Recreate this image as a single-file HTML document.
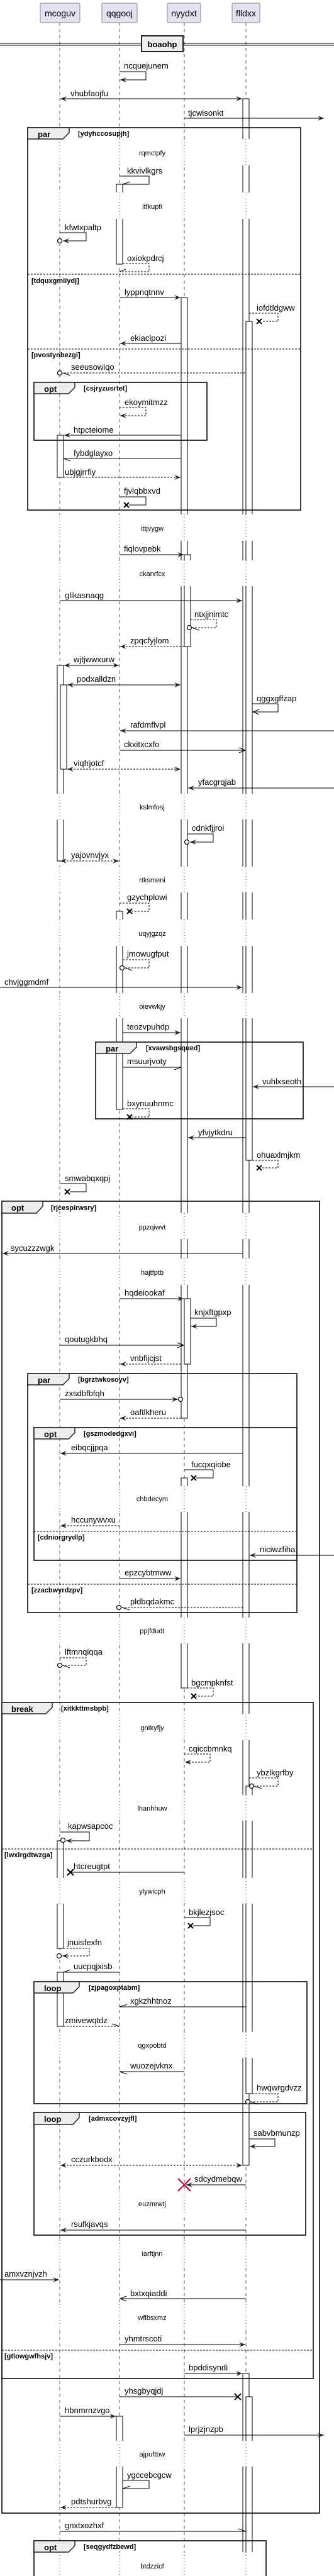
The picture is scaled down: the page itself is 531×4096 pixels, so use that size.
<!DOCTYPE html>
<html><head><meta charset="utf-8"><style>
html,body{margin:0;padding:0;background:#fff}
svg{display:block}
text{font-family:"Liberation Sans",Arial,sans-serif;fill:#000}
.m{font-size:13px}
.d{font-size:11px}
.fl{font-size:11px;font-weight:bold}
.ft{font-size:13px;font-weight:bold}
.ll{stroke:#555;stroke-width:1;stroke-dasharray:5,5}
.rd{stroke:#A80036;stroke-width:1;stroke-dasharray:1,4}
.b{fill:#fff;stroke:#000;stroke-width:1}
.s{stroke:#000;stroke-width:1;fill:none}
.ds{stroke:#000;stroke-width:1;fill:none;stroke-dasharray:3,2}
.fr{fill:none;stroke:#222;stroke-width:1.8}
.tab{fill:#eee;stroke:#222;stroke-width:1.5}
.el{stroke:#000;stroke-width:1;stroke-dasharray:3,2}
.c{fill:#fff;stroke:#000;stroke-width:1.2}
.x{stroke:#000;stroke-width:2}
</style></head><body>
<svg width="531" height="4096" viewBox="0 0 531 4096" xmlns="http://www.w3.org/2000/svg">
<defs>
<marker id="af" viewBox="-12 -6 14 12" markerWidth="14" markerHeight="12" refX="0" refY="0" orient="auto-start-reverse" markerUnits="userSpaceOnUse"><path d="M0,0 L-10,-4 L-6,0 L-10,4 Z" fill="#222"/></marker>
<marker id="ao" viewBox="-12 -6 14 12" markerWidth="14" markerHeight="12" refX="0" refY="0" orient="auto" markerUnits="userSpaceOnUse"><path d="M-10,-4 L0,0 L-10,4" fill="none" stroke="#000"/></marker>
</defs>

<!-- lifelines -->
<line class="ll" x1="95" y1="36" x2="95" y2="4096"/>
<line class="ll" x1="190" y1="36" x2="190" y2="4096"/>
<line class="ll" x1="293" y1="36" x2="293" y2="4096"/>
<line class="ll" x1="391" y1="36" x2="391" y2="4096"/>

<!-- heads -->
<rect x="64" y="5" width="63" height="31" rx="2" fill="#E2E2F0" stroke="#888"/>
<text x="95.5" y="26" font-size="14" text-anchor="middle">mcoguv</text>
<rect x="162" y="5" width="56" height="31" rx="2" fill="#E2E2F0" stroke="#888"/>
<text x="190" y="26" font-size="14" text-anchor="middle">qqgooj</text>
<rect x="266" y="5" width="53" height="31" rx="2" fill="#E2E2F0" stroke="#888"/>
<text x="292.5" y="26" font-size="14" text-anchor="middle">nyydxt</text>
<rect x="369" y="5" width="44" height="31" rx="2" fill="#E2E2F0" stroke="#888"/>
<text x="391" y="26" font-size="14" text-anchor="middle">flldxx</text>

<!-- activation bars -->
<rect class="b" x="386" y="157" width="10" height="3286"/>
<rect class="b" x="391" y="511" width="10" height="1334"/>
<rect class="b" x="391" y="2840" width="10" height="489"/>
<rect class="b" x="386" y="3774" width="10" height="330"/>
<rect class="b" x="391" y="3811" width="10" height="293"/>
<rect class="b" x="185" y="293" width="10" height="127"/>
<rect class="b" x="185" y="1449" width="10" height="315"/>
<rect class="b" x="185" y="3842" width="10" height="145"/>
<rect class="b" x="91" y="692" width="10" height="67"/>
<rect class="b" x="91" y="1058" width="10" height="311"/>
<rect class="b" x="96" y="1089" width="10" height="134"/>
<rect class="b" x="91" y="2927" width="10" height="171"/>
<rect class="b" x="91" y="3136" width="10" height="86"/>
<rect class="b" x="288" y="473" width="10" height="1782"/>
<rect class="b" x="293" y="882" width="10" height="146"/>
<rect class="b" x="293" y="2065" width="10" height="104"/>
<rect class="b" x="288" y="2350" width="10" height="334"/>

<!-- delays -->
<g fill="#fff">
<rect x="82" y="221" width="330" height="42"/><rect x="82" y="306" width="330" height="42"/>
<rect x="82" y="818" width="330" height="42"/><rect x="82" y="891" width="330" height="41"/>
<rect x="82" y="1262" width="330" height="41"/><rect x="82" y="1378" width="330" height="41"/>
<rect x="82" y="1462" width="330" height="42"/><rect x="82" y="1579" width="330" height="40"/>
<rect x="82" y="1929" width="330" height="41"/><rect x="82" y="2001" width="330" height="42"/>
<rect x="82" y="2363" width="330" height="41"/><rect x="82" y="2572" width="330" height="41"/>
<rect x="82" y="2725" width="330" height="42"/><rect x="82" y="2854" width="330" height="41"/>
<rect x="82" y="2986" width="330" height="41"/><rect x="82" y="3231" width="330" height="41"/>
<rect x="82" y="3483" width="330" height="40"/><rect x="82" y="3562" width="330" height="41"/>
<rect x="82" y="3664" width="330" height="41"/><rect x="82" y="3881" width="330" height="41"/>
<rect x="82" y="4058" width="330" height="38"/>
</g>
<g>
<path class="rd" d="M95,221V263M190,221V263M293,221V263M391,221V263M95,306V348M190,306V348M293,306V348M391,306V348M95,818V860M190,818V860M293,818V860M391,818V860M95,891V932M190,891V932M293,891V932M391,891V932M95,1262V1303M190,1262V1303M293,1262V1303M391,1262V1303M95,1378V1419M190,1378V1419M293,1378V1419M391,1378V1419M95,1462V1504M190,1462V1504M293,1462V1504M391,1462V1504M95,1579V1619M190,1579V1619M293,1579V1619M391,1579V1619M95,1929V1970M190,1929V1970M293,1929V1970M391,1929V1970M95,2001V2043M190,2001V2043M293,2001V2043M391,2001V2043M95,2363V2404M190,2363V2404M293,2363V2404M391,2363V2404M95,2572V2613M190,2572V2613M293,2572V2613M391,2572V2613M95,2725V2767M190,2725V2767M293,2725V2767M391,2725V2767M95,2854V2895M190,2854V2895M293,2854V2895M391,2854V2895M95,2986V3027M190,2986V3027M293,2986V3027M391,2986V3027M95,3231V3272M190,3231V3272M293,3231V3272M391,3231V3272M95,3483V3523M190,3483V3523M293,3483V3523M391,3483V3523M95,3562V3603M190,3562V3603M293,3562V3603M391,3562V3603M95,3664V3705M190,3664V3705M293,3664V3705M391,3664V3705M95,3881V3922M190,3881V3922M293,3881V3922M391,3881V3922M95,4058V4096M190,4058V4096M293,4058V4096M391,4058V4096"/>
</g>
<g class="d" text-anchor="middle">
<text x="242" y="247">rqmctpfy</text><text x="242" y="332">itfkupfi</text>
<text x="242" y="844">ittjvygw</text><text x="242" y="916">ckanrfcx</text>
<text x="242" y="1287">kslmfosj</text><text x="242" y="1403">rtksmeni</text>
<text x="242" y="1488">uqyjgzqz</text><text x="242" y="1604">oievwkjy</text>
<text x="242" y="1955">ppzqiwvt</text><text x="242" y="2027">hajtfptb</text>
<text x="242" y="2387">chbdecym</text><text x="242" y="2597">ppjfdudt</text>
<text x="242" y="2751">gntkyfjy</text><text x="242" y="2879">lhanhhuw</text>
<text x="242" y="3011">ylywicph</text><text x="242" y="3256">qgxpobtd</text>
<text x="242" y="3508">euzmrwtj</text><text x="242" y="3587">iarftjnn</text>
<text x="242" y="3689">wflbsxmz</text><text x="242" y="3906">ajpuftbw</text>
<text x="242" y="4084">btdzzicf</text>
</g>

<!-- separator -->
<line x1="0" y1="69" x2="531" y2="69" stroke="#000"/>
<line x1="0" y1="72" x2="531" y2="72" stroke="#000"/>
<rect x="225" y="57" width="66" height="25" fill="#eee" stroke="#222" stroke-width="2"/>
<text x="258" y="75" text-anchor="middle" class="ft">boaohp</text>

<!-- fragments -->
<g>
<rect class="fr" x="44" y="203" width="434" height="608"/>
<path class="tab" d="M44,203H110V211L100,221H44Z"/><text class="ft" x="60" y="218">par</text>
<text class="fl" x="124" y="216">[ydyhccosupjh]</text>
<line class="el" x1="44" y1="436" x2="478" y2="436"/><text class="fl" x="50" y="450">[tdquxgmiiydj]</text>
<line class="el" x1="44" y1="555" x2="478" y2="555"/><text class="fl" x="50" y="568">[pvostynbezgi]</text>

<rect class="fr" x="54" y="608" width="275" height="92"/>
<path class="tab" d="M54,608H119V616L109,626H54Z"/><text class="ft" x="70" y="623">opt</text>
<text class="fl" x="133" y="621">[csjryzusrtet]</text>

<rect class="fr" x="152" y="1657" width="330" height="122"/>
<path class="tab" d="M152,1657H217V1665L207,1675H152Z"/><text class="ft" x="168" y="1672">par</text>
<text class="fl" x="232" y="1670">[xvawsbgsqued]</text>

<rect class="fr" x="3" y="1910" width="505" height="2086"/>
<path class="tab" d="M3,1910H68V1918L58,1929H3Z"/><text class="ft" x="18" y="1925">opt</text>
<text class="fl" x="81" y="1924">[rjcespirwsry]</text>

<rect class="fr" x="44" y="2184" width="428" height="380"/>
<path class="tab" d="M44,2184H110V2192L100,2202H44Z"/><text class="ft" x="60" y="2199">par</text>
<text class="fl" x="124" y="2197">[bgrztwkosoyv]</text>
<line class="el" x1="44" y1="2519" x2="472" y2="2519"/><text class="fl" x="50" y="2532">[zzacbwyrdzpv]</text>

<rect class="fr" x="54" y="2270" width="418" height="211"/>
<path class="tab" d="M54,2270H119V2278L109,2288H54Z"/><text class="ft" x="70" y="2285">opt</text>
<text class="fl" x="133" y="2283">[gszmodedgxvi]</text>
<line class="el" x1="54" y1="2435" x2="472" y2="2435"/><text class="fl" x="60" y="2448">[cdniorgrydlp]</text>

<rect class="fr" x="3" y="2707" width="495" height="1075"/>
<path class="tab" d="M3,2707H83V2715L73,2725H3Z"/><text class="ft" x="18" y="2722">break</text>
<text class="fl" x="97" y="2720">[xitkkttmsbpb]</text>
<line class="el" x1="3" y1="2940" x2="498" y2="2940"/><text class="fl" x="7" y="2953">[lwxlrgdtwzga]</text>
<line class="el" x1="3" y1="3737" x2="498" y2="3737"/><text class="fl" x="7" y="3750">[gtlowgwfhsjv]</text>

<rect class="fr" x="54" y="3151" width="434" height="194"/>
<path class="tab" d="M54,3151H126V3159L116,3169H54Z"/><text class="ft" x="70" y="3166">loop</text>
<text class="fl" x="141" y="3164">[zjpagoxptabm]</text>

<rect class="fr" x="54" y="3359" width="432" height="195"/>
<path class="tab" d="M54,3359H126V3367L116,3378H54Z"/><text class="ft" x="70" y="3374">loop</text>
<text class="fl" x="141" y="3372">[admxcovzyjfl]</text>

<rect class="fr" x="54" y="4040" width="369" height="70"/>
<path class="tab" d="M54,4040H119V4048L109,4058H54Z"/><text class="ft" x="70" y="4055">opt</text>
<text class="fl" x="133" y="4053">[seqgydfzbewd]</text>
</g>

<!-- messages -->
<g>
<polyline class="s" points="190,114 232,114 232,127 191,127" marker-end="url(#af)"/><text class="m" x="197" y="109">ncquejunem</text>
<line class="s" x1="96" y1="157" x2="385" y2="157" marker-start="url(#af)" marker-end="url(#af)"/><text class="m" x="112" y="153">vhubfaojfu</text>
<line class="s" x1="293" y1="188" x2="515" y2="188" marker-end="url(#af)"/><text class="m" x="299" y="184">tjcwisonkt</text>
<polyline class="s" points="190,280 237,280 237,293 195,293"/><line class="s" x1="195" y1="293" x2="207" y2="289"/><text class="m" x="202" y="276">kkvivlkgrs</text>
<polyline class="s" points="95,370 137,370 137,383 100,383" marker-end="url(#af)"/><circle class="c" cx="95" cy="383" r="3.5"/><text class="m" x="103" y="366">kfwtxpaltp</text>
<polyline class="ds" points="195,419 237,419 237,432 190,432"/><line class="s" x1="190" y1="432" x2="200" y2="428"/><text class="m" x="202" y="415">oxiokpdrcj</text>
<line class="s" x1="190" y1="473" x2="287" y2="473" marker-end="url(#af)"/><text class="m" x="198" y="469">lyppnqtnnv</text>
<polyline class="ds" points="396,498 442,498 442,511 416,511"/><path class="x" d="M408,507L416,515M416,507L408,515"/><text class="m" x="408" y="494">iofdtldgww</text>
<line class="s" x1="288" y1="546" x2="191" y2="546" marker-end="url(#af)"/><text class="m" x="207" y="542">ekiaclpozi</text>
<line class="ds" x1="390" y1="593" x2="99" y2="593"/><circle class="c" cx="95" cy="593" r="3.5"/><line class="s" x1="100" y1="593" x2="112" y2="597"/><text class="m" x="113" y="588">seeusowiqo</text>
<polyline class="ds" points="190,648 232,648 232,661 191,661" marker-end="url(#af)"/><text class="m" x="198" y="644">ekoymitmzz</text>
<line class="s" x1="288" y1="692" x2="102" y2="692" marker-end="url(#af)"/><text class="m" x="117" y="688">htpcteiome</text>
<line class="s" x1="288" y1="729" x2="101" y2="729"/><line class="s" x1="101" y1="729" x2="112" y2="733"/><text class="m" x="117" y="725">fybdglayxo</text>
<line class="ds" x1="101" y1="759" x2="287" y2="759" marker-end="url(#af)"/><text class="m" x="103" y="755">ubjgjrrfiy</text>
<polyline class="s" points="190,790 232,790 232,803 205,803"/><path class="x" d="M197,799L205,807M205,799L197,807"/><text class="m" x="197" y="785">fjvlqbbxvd</text>
<line class="s" x1="190" y1="882" x2="292" y2="882" marker-end="url(#af)"/><text class="m" x="197" y="877">fiqlovpebk</text>
<line class="s" x1="95" y1="955" x2="385" y2="955" marker-end="url(#af)"/><text class="m" x="103" y="951">glikasnaqg</text>
<polyline class="ds" points="303,985 344,985 344,998 305,998"/><circle class="c" cx="301" cy="998" r="3.5"/><line class="s" x1="305" y1="998" x2="317" y2="1002"/><text class="m" x="309" y="981">ntxjjnimtc</text>
<line class="ds" x1="293" y1="1028" x2="191" y2="1028" marker-end="url(#af)"/><text class="m" x="207" y="1023">zpqcfyjlom</text>
<line class="s" x1="102" y1="1058" x2="189" y2="1058" marker-start="url(#af)" marker-end="url(#af)"/><text class="m" x="117" y="1053">wjtjwwxurw</text>
<line class="s" x1="107" y1="1089" x2="287" y2="1089" marker-start="url(#af)" marker-end="url(#af)"/><text class="m" x="122" y="1084">podxalldzn</text>
<polyline class="s" points="401,1119 442,1119 442,1132 402,1132" marker-end="url(#ao)"/><text class="m" x="408" y="1115">qggxgffzap</text>
<line class="s" x1="531" y1="1162" x2="191" y2="1162" marker-end="url(#af)"/><text class="m" x="207" y="1157">rafdmflvpl</text>
<line class="s" x1="190" y1="1193" x2="390" y2="1193" marker-end="url(#ao)"/><text class="m" x="197" y="1188">ckxitxcxfo</text>
<line class="ds" x1="107" y1="1223" x2="287" y2="1223" marker-start="url(#af)" marker-end="url(#af)"/><text class="m" x="117" y="1218">viqfrjotcf</text>
<line class="s" x1="531" y1="1253" x2="299" y2="1253" marker-end="url(#af)"/><text class="m" x="315" y="1248">yfacgrqjab</text>
<polyline class="s" points="298,1326 339,1326 339,1339 302,1339" marker-end="url(#af)"/><circle class="c" cx="297" cy="1339" r="3.5"/><text class="m" x="305" y="1321">cdnkfjjroi</text>
<line class="ds" x1="96" y1="1369" x2="189" y2="1369" marker-start="url(#af)" marker-end="url(#af)"/><text class="m" x="113" y="1364">yajovnvjyx</text>
<polyline class="ds" points="190,1436 237,1436 237,1449 210,1449"/><path class="x" d="M202,1445L210,1453M210,1445L202,1453"/><text class="m" x="202" y="1431">gzychplowi</text>
<polyline class="ds" points="195,1526 237,1526 237,1539 198,1539"/><circle class="c" cx="194" cy="1539" r="3.5"/><line class="s" x1="199" y1="1539" x2="210" y2="1543"/><text class="m" x="202" y="1521">jmowugfput</text>
<line class="s" x1="0" y1="1570" x2="385" y2="1570" marker-end="url(#af)"/><text class="m" x="7" y="1566">chvjggmdmf</text>
<line class="s" x1="195" y1="1642" x2="287" y2="1642" marker-end="url(#af)"/><text class="m" x="202" y="1637">teozvpuhdp</text>
<line class="s" x1="195" y1="1697" x2="288" y2="1697"/><line class="s" x1="288" y1="1697" x2="277" y2="1701"/><text class="m" x="202" y="1692">msuurjvoty</text>
<line class="s" x1="531" y1="1728" x2="402" y2="1728" marker-end="url(#af)"/><text class="m" x="417" y="1724">vuhlxseoth</text>
<polyline class="ds" points="195,1763 237,1763 237,1776 210,1776"/><path class="x" d="M202,1772L210,1780M210,1772L202,1780"/><text class="m" x="202" y="1759">bxynuuhnmc</text>
<line class="s" x1="391" y1="1809" x2="299" y2="1809" marker-end="url(#af)"/><text class="m" x="315" y="1805">yfvjytkdru</text>
<polyline class="ds" points="401,1845 442,1845 442,1857 416,1857"/><path class="x" d="M408,1853L416,1861M416,1853L408,1861"/><text class="m" x="408" y="1841">ohuaxlmjkm</text>
<polyline class="s" points="95,1882 137,1882 137,1895 111,1895"/><path class="x" d="M103,1891L111,1899M111,1891L103,1899"/><text class="m" x="103" y="1878">smwabqxqpj</text>
<line class="s" x1="386" y1="1993" x2="4" y2="1993" marker-end="url(#af)"/><text class="m" x="17" y="1989">sycuzzzwgk</text>
<line class="s" x1="190" y1="2065" x2="292" y2="2065" marker-end="url(#af)"/><text class="m" x="198" y="2060">hqdeiookaf</text>
<polyline class="s" points="303,2096 344,2096 344,2109 304,2109" marker-end="url(#af)"/><text class="m" x="309" y="2091">knjxftgpxp</text>
<line class="s" x1="95" y1="2139" x2="292" y2="2139" marker-end="url(#ao)"/><text class="m" x="103" y="2134">qoutugkbhq</text>
<line class="ds" x1="288" y1="2169" x2="191" y2="2169" marker-end="url(#af)"/><text class="m" x="207" y="2164">vnbfijcjst</text>
<line class="s" x1="95" y1="2225" x2="283" y2="2225" marker-end="url(#af)"/><circle class="c" cx="287" cy="2225" r="3.5"/><text class="m" x="103" y="2220">zxsdbfbfqh</text>
<line class="ds" x1="288" y1="2255" x2="191" y2="2255" marker-end="url(#af)"/><text class="m" x="207" y="2250">oaftlkheru</text>
<line class="s" x1="386" y1="2311" x2="96" y2="2311" marker-end="url(#af)"/><text class="m" x="113" y="2306">eibqcjjpqa</text>
<polyline class="s" points="293,2337 339,2337 339,2350 312,2350"/><path class="x" d="M304,2346L312,2354M312,2346L304,2354"/><text class="m" x="304" y="2333">fucqxqiobe</text>
<line class="ds" x1="190" y1="2426" x2="96" y2="2426" marker-end="url(#af)"/><text class="m" x="113" y="2421">hccunywvxu</text>
<line class="s" x1="531" y1="2473" x2="397" y2="2473" marker-end="url(#af)"/><text class="m" x="413" y="2468">niciwzfiha</text>
<line class="s" x1="190" y1="2510" x2="287" y2="2510" marker-end="url(#af)"/><text class="m" x="198" y="2505">epzcybtmww</text>
<line class="ds" x1="386" y1="2556" x2="193" y2="2556"/><circle class="c" cx="189" cy="2556" r="3.5"/><line class="s" x1="194" y1="2556" x2="206" y2="2560"/><text class="m" x="207" y="2551">pldbqdakmc</text>
<polyline class="ds" points="95,2636 137,2636 137,2648 99,2648"/><circle class="c" cx="95" cy="2648" r="3.5"/><line class="s" x1="100" y1="2648" x2="111" y2="2652"/><text class="m" x="103" y="2631">lftmnqiqqa</text>
<polyline class="ds" points="298,2684 339,2684 339,2697 312,2697"/><path class="x" d="M304,2693L312,2701M312,2693L304,2701"/><text class="m" x="304" y="2680">bgcmpknfst</text>
<polyline class="ds" points="293,2789 334,2789 334,2802 294,2802" marker-end="url(#af)"/><text class="m" x="300" y="2785">cqiccbmnkq</text>
<polyline class="ds" points="396,2827 442,2827 442,2840 404,2840"/><circle class="c" cx="400" cy="2840" r="3.5"/><line class="s" x1="404" y1="2840" x2="416" y2="2844"/><text class="m" x="408" y="2823">ybzlkgrfby</text>
<polyline class="s" points="95,2913 142,2913 142,2927 105,2927" marker-end="url(#af)"/><circle class="c" cx="100" cy="2926" r="3.5"/><text class="m" x="108" y="2908">kapwsapcoc</text>
<line class="s" x1="293" y1="2977" x2="112" y2="2977"/><path class="x" d="M107,2972L117,2982M117,2972L107,2982"/><text class="m" x="117" y="2972">htcreugtpt</text>
<polyline class="s" points="293,3049 334,3049 334,3062 307,3062"/><path class="x" d="M299,3058L307,3066M307,3058L299,3066"/><text class="m" x="300" y="3045">bkjlezjsoc</text>
<polyline class="ds" points="101,3098 142,3098 142,3110 99,3110" marker-end="url(#af)"/><circle class="c" cx="94" cy="3110" r="3.5"/><text class="m" x="107" y="3093">jnuisfexfn</text>
<line class="s" x1="190" y1="3136" x2="101" y2="3136"/><line class="s" x1="101" y1="3136" x2="112" y2="3132"/><text class="m" x="117" y="3131">uucpqjxisb</text>
<line class="s" x1="391" y1="3191" x2="190" y2="3191"/><line class="s" x1="190" y1="3191" x2="202" y2="3187"/><text class="m" x="207" y="3186">xgkzhhtnoz</text>
<line class="ds" x1="101" y1="3222" x2="190" y2="3222"/><line class="s" x1="190" y1="3222" x2="178" y2="3218"/><text class="m" x="103" y="3217">zmivewqtdz</text>
<line class="s" x1="293" y1="3294" x2="190" y2="3294"/><line class="s" x1="190" y1="3294" x2="202" y2="3298"/><text class="m" x="207" y="3289">wuozejvknx</text>
<polyline class="ds" points="401,3329 442,3329 442,3342 398,3342"/><circle class="c" cx="394" cy="3342" r="3.5"/><line class="s" x1="399" y1="3342" x2="410" y2="3346"/><text class="m" x="408" y="3324">hwqwrgdvzz</text>
<polyline class="s" points="396,3401 437,3401 437,3413 397,3413" marker-end="url(#af)"/><text class="m" x="403" y="3396">sabvbmunzp</text>
<line class="ds" x1="96" y1="3443" x2="385" y2="3443" marker-start="url(#af)" marker-end="url(#af)"/><text class="m" x="113" y="3438">cczurkbodx</text>
<line class="s" x1="391" y1="3474" x2="296" y2="3474" marker-end="url(#af)"/><path d="M283,3464L303,3484M303,3464L283,3484" stroke="#A80036" stroke-width="2"/><text class="m" x="309" y="3469">sdcydmebqw</text>
<line class="s" x1="391" y1="3546" x2="96" y2="3546" marker-end="url(#af)"/><text class="m" x="113" y="3541">rsufkjavqs</text>
<line class="s" x1="0" y1="3625" x2="94" y2="3625" marker-end="url(#af)"/><text class="m" x="7" y="3620">amxvznjvzh</text>
<line class="s" x1="391" y1="3655" x2="191" y2="3655" marker-end="url(#ao)"/><text class="m" x="207" y="3651">bxtxqiaddi</text>
<line class="s" x1="190" y1="3728" x2="390" y2="3728" marker-end="url(#af)"/><text class="m" x="198" y="3723">yhmtrscoti</text>
<line class="s" x1="293" y1="3774" x2="385" y2="3774" marker-end="url(#af)"/><text class="m" x="300" y="3769">bpddisyndi</text>
<line class="s" x1="190" y1="3811" x2="378" y2="3811"/><path class="x" d="M373,3806L383,3816M383,3806L373,3816"/><text class="m" x="198" y="3806">yhsgbyqjdj</text>
<line class="s" x1="95" y1="3842" x2="184" y2="3842" marker-end="url(#af)"/><text class="m" x="103" y="3837">hbnmrnzvgo</text>
<line class="s" x1="293" y1="3872" x2="515" y2="3872" marker-end="url(#af)"/><text class="m" x="300" y="3867">lprjzjnzpb</text>
<polyline class="s" points="195,3944 237,3944 237,3957 195,3957"/><line class="s" x1="195" y1="3957" x2="207" y2="3953"/><text class="m" x="202" y="3940">ygccebcgcw</text>
<line class="ds" x1="185" y1="3987" x2="96" y2="3987" marker-end="url(#af)"/><text class="m" x="113" y="3982">pdtshurbvg</text>
<line class="s" x1="95" y1="4025" x2="391" y2="4025"/><line class="s" x1="391" y1="4025" x2="379" y2="4021"/><text class="m" x="103" y="4020">gnxtxozhxf</text>
</g>
</svg>
</body></html>
